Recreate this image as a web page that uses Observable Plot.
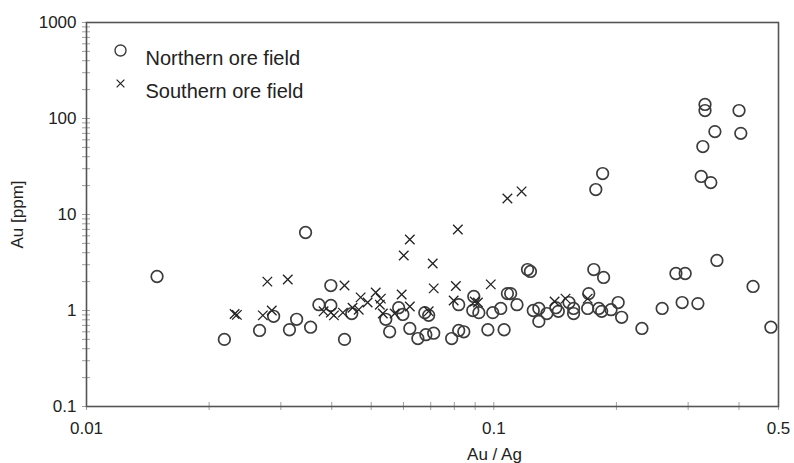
<!DOCTYPE html>
<html>
<head>
<meta charset="utf-8">
<script src="https://cdn.jsdelivr.net/npm/d3@7"></script>
<script src="https://cdn.jsdelivr.net/npm/@observablehq/plot@0.6"></script>
<style>
  html, body { margin: 0; padding: 0; background: #fff; }
</style>
</head>
<body>
<div id="chart"></div>
<script>
// Northern ore field (circles): Au/Ag ratio and Au [ppm]
const northRatio = [0.0149, 0.0218, 0.0266, 0.0288, 0.0315, 0.0328, 0.0345, 0.0355, 0.0372, 0.0398,
  0.0398, 0.0430, 0.0448, 0.0543, 0.0555, 0.0584, 0.0598, 0.0622, 0.0651, 0.0677,
  0.0681, 0.0692, 0.0712, 0.0788, 0.0820, 0.0844, 0.0820, 0.0893, 0.0888, 0.0919,
  0.0967, 0.0994, 0.104, 0.106, 0.108, 0.110, 0.114, 0.121, 0.123, 0.125,
  0.129, 0.129, 0.135, 0.142, 0.144, 0.153, 0.157, 0.157, 0.171, 0.170,
  0.181, 0.184, 0.194, 0.202, 0.206, 0.176, 0.186, 0.178, 0.185, 0.231,
  0.259, 0.280, 0.295, 0.290, 0.317, 0.353, 0.433, 0.479, 0.330, 0.330,
  0.349, 0.326, 0.323, 0.341, 0.400, 0.404];
const northAu = [2.26, 0.50, 0.62, 0.87, 0.63, 0.81, 6.49, 0.67, 1.15, 1.13,
  1.82, 0.50, 0.93, 0.81, 0.60, 1.07, 0.91, 0.65, 0.51, 0.95,
  0.56, 0.89, 0.58, 0.51, 0.62, 0.60, 1.15, 1.40, 1.00, 0.95,
  0.63, 0.95, 1.05, 0.63, 1.50, 1.50, 1.15, 2.67, 2.55, 1.00,
  1.05, 0.77, 0.93, 1.07, 0.98, 1.21, 1.05, 0.93, 1.50, 1.05,
  1.05, 0.98, 1.02, 1.21, 0.85, 2.67, 2.21, 18.2, 26.7, 0.65,
  1.05, 2.43, 2.43, 1.21, 1.18, 3.32, 1.78, 0.67, 140, 121,
  73, 51, 24.9, 21.5, 121, 70];

// Southern ore field (crosses)
const southRatio = [0.0231, 0.0234, 0.0271, 0.0285, 0.0278, 0.0312, 0.0382, 0.0398, 0.0405, 0.0426,
  0.0430, 0.0450, 0.0466, 0.0471, 0.0490, 0.0513, 0.0528, 0.0525, 0.0534, 0.0571,
  0.0594, 0.0601, 0.0622, 0.0622, 0.0692, 0.0708, 0.0712, 0.0797, 0.0807, 0.0816,
  0.0898, 0.0914, 0.0983, 0.108, 0.117, 0.141, 0.150, 0.170];
const southAu = [0.92, 0.90, 0.89, 1.00, 2.00, 2.10, 0.98, 0.95, 0.89, 0.95,
  1.82, 1.07, 1.02, 1.37, 1.21, 1.54, 1.33, 1.15, 0.93, 0.93,
  1.47, 3.74, 5.49, 1.10, 0.98, 3.09, 1.70, 1.27, 1.80, 6.98,
  1.24, 1.21, 1.87, 14.7, 17.4, 1.24, 1.33, 1.33];

// Axis ticks and labels
const xLabelTicks = [0.01, 0.1, 0.5];
const xLabelText = ["0.01", "0.1", "0.5"];
const xMinorTicks = [0.01, 0.02, 0.03, 0.04, 0.05, 0.06, 0.07, 0.08, 0.09, 0.1, 0.2, 0.3, 0.4, 0.5];
const yLabelTicks = [0.1, 1, 10, 100, 1000];
const yLabelText = ["0.1", "1", "10", "100", "1000"];
const yMinorTicks = [0.1, 0.2, 0.3, 0.4, 0.5, 0.6, 0.7, 0.8, 0.9,
  1, 2, 3, 4, 5, 6, 7, 8, 9,
  10, 20, 30, 40, 50, 60, 70, 80, 90,
  100, 200, 300, 400, 500, 600, 700, 800, 900, 1000];

const legendLabels = ["Northern ore field", "Southern ore field"];

const north = northRatio.map((r, i) => ({ratio: r, au: northAu[i]}));
const south = southRatio.map((r, i) => ({ratio: r, au: southAu[i]}));

const fmtY = d => yLabelText[yLabelTicks.indexOf(d)];
const fmtX = d => xLabelText[xLabelTicks.indexOf(d)];

const chart = Plot.plot({
  width: 794,
  height: 463,
  marginLeft: 86,
  marginRight: 16,
  marginTop: 22,
  marginBottom: 57,
  x: {type: "log", domain: [0.01, 0.5]},
  y: {type: "log", domain: [0.1, 1000]},
  style: {fontFamily: "'Liberation Sans', Arial, sans-serif", fontSize: "17px", color: "#222", background: "#fff"},
  marks: [
    Plot.axisY(yMinorTicks, {tickSize: 8, dx: 4, text: null, stroke: "#a0a0a0", label: null}),
    Plot.axisY(yLabelTicks, {tickSize: 0, tickPadding: 10, tickFormat: fmtY, fontSize: 17,
      label: "Au [ppm]", labelAnchor: "center", labelArrow: "none", labelOffset: 76}),
    Plot.axisX(xMinorTicks, {tickSize: 8, dy: -4, text: null, stroke: "#a0a0a0", label: null}),
    Plot.axisX(xLabelTicks, {tickSize: 0, tickPadding: 15, tickFormat: fmtX, fontSize: 17, label: null}),
    Plot.text(["Au / Ag"], {frameAnchor: "bottom", dx: 62, dy: 53, fontSize: 17, fill: "#222"}),
    Plot.frame({stroke: "#555", strokeWidth: 1.6}),
    Plot.dot(north, {x: "ratio", y: "au", r: 5.8, stroke: "#3c3c3c", strokeWidth: 1.7, fill: "none"}),
    Plot.dot(south, {x: "ratio", y: "au", symbol: "times", r: 4.4, stroke: "#222", strokeWidth: 1.3}),
    // legend
    Plot.dot([legendLabels[0]], {frameAnchor: "top-left", dx: 34, dy: 28, r: 5.5, stroke: "#3c3c3c", strokeWidth: 1.4, fill: "none"}),
    Plot.dot([legendLabels[1]], {frameAnchor: "top-left", dx: 34, dy: 61, symbol: "times", r: 3.6, stroke: "#222", strokeWidth: 1.2}),
    Plot.text([legendLabels[0]], {frameAnchor: "top-left", dx: 59, dy: 28, text: d => d, textAnchor: "start", fontSize: 20, fill: "#222"}),
    Plot.text([legendLabels[1]], {frameAnchor: "top-left", dx: 59, dy: 61, text: d => d, textAnchor: "start", fontSize: 20, fill: "#222"})
  ]
});
document.getElementById("chart").appendChild(chart);
</script>
</body>
</html>
